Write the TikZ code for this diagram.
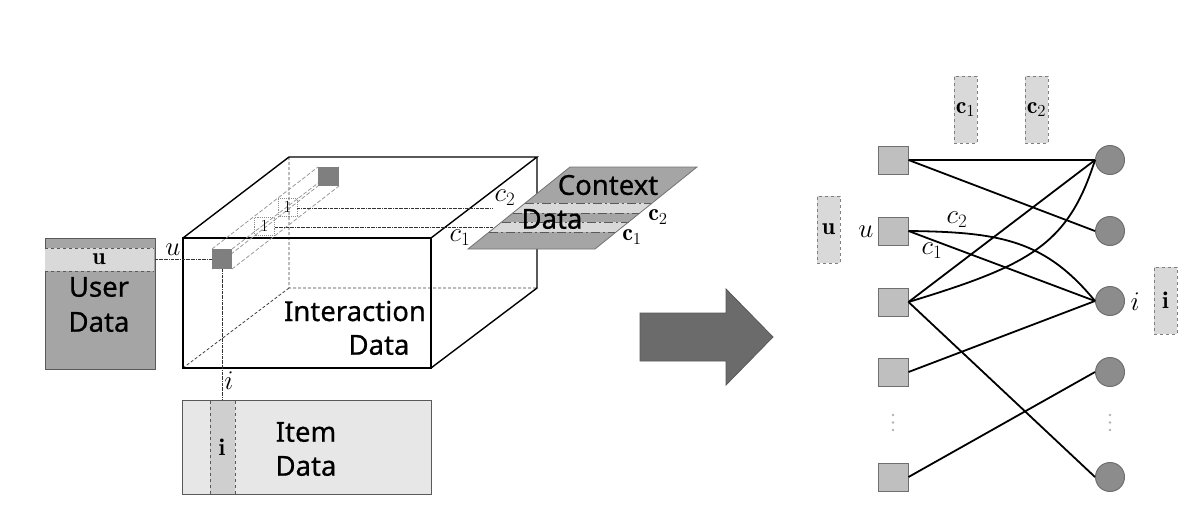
\documentclass[tikz,border=0pt]{standalone}
\usepackage{fix-cm}
\usepackage{fontspec}
\newfontfamily\labfont{Noto Sans}[FakeBold=0.6]
\definecolor{cA5}{HTML}{A5A5A5}
\definecolor{cD9}{HTML}{D9D9D9}
\definecolor{cE7}{HTML}{E7E7E7}
\definecolor{cCF}{HTML}{CFCFCF}
\definecolor{c59}{HTML}{595959}
\definecolor{c7F}{HTML}{7F7F7F}
\definecolor{c6B}{HTML}{6B6B6B}
\definecolor{cBF}{HTML}{BFBFBF}
\definecolor{c8C}{HTML}{8C8C8C}
\definecolor{c6F}{HTML}{6F6F6F}
\begin{document}
\begin{tikzpicture}[x=1pt,y=-1pt,
  lab/.style={font=\labfont\fontsize{27.5}{32}\selectfont, inner sep=0pt},
  ml/.style={font=\fontsize{27}{30}\selectfont, inner sep=0pt},
  bl/.style={font=\fontsize{24}{28}\selectfont, inner sep=0pt},
  dd/.style={densely dash dot, line width=0.8pt, black!80},
  hid/.style={dash pattern=on 3pt off 2pt, line width=0.8pt, black!75},
  tube/.style={dash pattern=on 4pt off 2pt, line width=0.8pt, black!40},
  edge/.style={line width=1.8pt, black},
  usq/.style={draw=c6F, fill=cBF, line width=1pt, minimum width=30pt, minimum height=28pt, inner sep=0pt},
  itc/.style={circle, draw=c6F, fill=c8C, line width=1pt, minimum size=29pt, inner sep=0pt},
  fbox/.style={draw=c7F, dashed, fill=cD9, line width=1pt, minimum width=23pt, minimum height=67pt, inner sep=0pt},
  band/.style={c59, line width=0.9pt, dash pattern=on 9pt off 3pt on 2pt off 3pt}
]
\useasboundingbox (0,0) rectangle (1201,515);

% ---------- User data ----------
\node[draw=c59, fill=cA5, line width=1pt, minimum width=110pt, minimum height=131pt, inner sep=0pt, anchor=north west] (user) at (44.5,237.5) {};
\fill[cD9] (45,248) rectangle (154,271);
\draw[dashed, c59, line width=1pt] (45,248) -- (154,248) (45,271) -- (154,271);
\node[bl] (ulab) at (99,259) {$\mathbf{u}$};
\node[lab] (usertxt) at (99,287) {User};
\node[lab] (userdata) at (99,322) {Data};

% ---------- Cube ----------
\draw[hid] (289,157) -- (289,288) -- (537,288) (289,288) -- (183,368);
\draw[line width=1.4pt] (183,238) rectangle (431,368);
\draw[line width=1.4pt] (183,238) -- (289,157) -- (537,157) -- (431,238);
\draw[line width=1.4pt] (537,157) -- (537,288) -- (431,368);

% tube
\draw[tube] (212,249) -- (318,167) (232,249) -- (339,167) (232,269) -- (339,186) (212,269) -- (318,186);
\node[fill=c7F, minimum width=20pt, minimum height=20pt, inner sep=0pt] (front) at (222,259) {};
\node[fill=c7F, minimum width=21pt, minimum height=19pt, inner sep=0pt] (back) at (328.5,176.5) {};
\node[draw=black!45, densely dotted, line width=0.9pt, minimum width=20pt, minimum height=18pt, inner sep=0pt, font=\fontsize{17}{18}\selectfont] (one1) at (264.5,226) {1};
\node[draw=black!45, densely dotted, line width=0.9pt, minimum width=19pt, minimum height=18pt, inner sep=0pt, font=\fontsize{17}{18}\selectfont] (one2) at (287.5,207) {1};
\coordinate (e1) at (493,227);
\coordinate (e2) at (493,208);
\draw[dd] (one1.east |- e1) -- (e1);
\draw[dd] (one2.east |- e2) -- (e2);
\node[ml] (cc2) at (505,198) {$c_2$};
\node[ml] (cc1) at (460,238) {$c_1$};
\node[lab] (inter1) at (355,311) {Interaction};
\node[lab] (inter2) at (379,345) {Data};

% u and i links
\coordinate (ub) at (154.5,259);
\draw[dd] (ub) -- (front.west);
\node[ml] (ulink) at (173,250) {$u$};

% ---------- Context plane ----------
\fill[cA5] (468,249) -- (570,167) -- (697,167) -- (595,249) -- cycle;
\fill[cD9] (525.2,203) -- (652.2,203) -- (639.8,213) -- (512.8,213) -- cycle;
\fill[cD9] (501.6,222) -- (628.6,222) -- (616.2,232) -- (489.2,232) -- cycle;
\draw[band] (525.2,203) -- (652.2,203) (512.8,213) -- (639.8,213) (501.6,222) -- (628.6,222) (489.2,232) -- (616.2,232);
\draw[black!55, line width=0.8pt] (468,249) -- (570,167) -- (697,167) -- (595,249) -- cycle;
\node[lab] (ctx1) at (608,185) {Context};
\node[lab] (ctx2) at (552,219) {Data};
\node[bl] (bc2) at (658,217) {$\mathbf{c}_2$};
\node[bl] (bc1) at (632,237) {$\mathbf{c}_1$};

% ---------- Item data ----------
\node[draw=c59, fill=cE7, line width=1pt, minimum width=249pt, minimum height=94pt, inner sep=0pt, anchor=north west] (item) at (182,400) {};
\fill[cCF] (210,400.5) rectangle (235,493.5);
\draw[dashed, c59, line width=1pt] (210,400.5) -- (210,493.5) (235,400.5) -- (235,493.5);
\node[bl] (ilab) at (222,447) {$\mathbf{i}$};
\node[lab] (itemtxt) at (306,432) {Item};
\node[lab] (itemdata) at (306,466) {Data};
\draw[dd] (front.south) -- (front.south |- item.north);
\node[ml] (ilink) at (229,381) {$i$};

% ---------- Arrow ----------
\filldraw[fill=c6B, draw=c59, line width=0.8pt] (640,313) -- (726,313) -- (726,289) -- (773,337) -- (726,385) -- (726,361) -- (640,361) -- cycle;

% ---------- Graph ----------
\node[fbox] (fc1) at (965.5,109.5) {};
\node[bl] at (fc1) {$\mathbf{c}_1$};
\node[fbox] (fc2) at (1036.5,109.5) {};
\node[bl] at (fc2) {$\mathbf{c}_2$};
\node[fbox] (fu) at (828.5,229.5) {};
\node[bl] at (fu) {$\mathbf{u}$};
\node[fbox] (fi) at (1165.5,300.5) {};
\node[bl] at (fi) {$\mathbf{i}$};

\node[usq] (U1) at (893,160) {};
\node[usq] (U2) at (893,231) {};
\node[usq] (U3) at (893,302) {};
\node[usq] (U4) at (893,372) {};
\node[usq] (U5) at (893,477) {};
\node[itc] (I1) at (1110,160) {};
\node[itc] (I2) at (1110,231) {};
\node[itc] (I3) at (1110,301) {};
\node[itc] (I4) at (1110,372) {};
\node[itc] (I5) at (1110,477) {};
\foreach \yy in {415,422.5,430} {
  \fill[black!30] (893,\yy) circle (1.4pt);
  \fill[black!30] (1110,\yy) circle (1.4pt);
}

\draw[edge] (U1.east) -- (I1.west);
\draw[edge] (U1.east) -- (I2.west);
\draw[edge] (U2.east) -- (I3.west);
\draw[edge] (U2.east) .. controls (1000,232) and (1045,240) .. (I3.west);
\draw[edge] (U3.east) -- (I1.west);
\draw[edge] (U3.east) .. controls (1030,265) and (1068,245) .. (I1.west);
\draw[edge] (U3.east) -- (I5.west);
\draw[edge] (U4.east) -- (I3.west);
\draw[edge] (U5.east) -- (I4.west);

\node[ml] (gu) at (866,232) {$u$};
\node[ml] (gi) at (1135,302) {$i$};
\node[ml] (gc2) at (957,220) {$c_2$};
\node[ml] (gc1) at (932,251) {$c_1$};
\end{tikzpicture}
\end{document}
